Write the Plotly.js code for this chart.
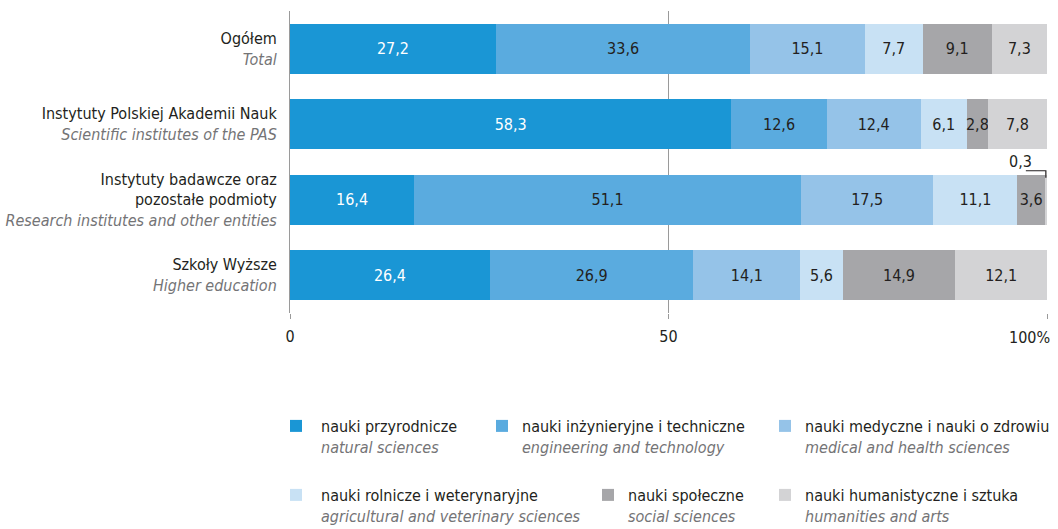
<!DOCTYPE html>
<html><head><meta charset="utf-8">
<script src="https://cdn.plot.ly/plotly-3.0.1.min.js"></script>
<style>html,body{margin:0;padding:0;background:#fff}#chart{width:1058px;height:529px}</style>
</head><body><div id="chart"></div>
<script>
const rowsPL = ["Ogółem", "Instytuty Polskiej Akademii Nauk", "Instytuty badawcze oraz<br>pozostałe podmioty", "Szkoły Wyższe"];
const rowsEN = ["Total", "Scientific institutes of the PAS", "Research institutes and other entities", "Higher education"];
const seriesPL = ["nauki przyrodnicze", "nauki inżynieryjne i techniczne", "nauki medyczne i nauki o zdrowiu", "nauki rolnicze i weterynaryjne", "nauki społeczne", "nauki humanistyczne i sztuka"];
const seriesEN = ["natural sciences", "engineering and technology", "medical and health sciences", "agricultural and veterinary sciences", "social sciences", "humanities and arts"];
const natural      = [27.2, 58.3, 16.4, 26.4];
const engineering  = [33.6, 12.6, 51.1, 26.9];
const medical      = [15.1, 12.4, 17.5, 14.1];
const agricultural = [7.7, 6.1, 11.1, 5.6];
const social       = [9.1, 2.8, 3.6, 14.9];
const humanities   = [7.3, 7.8, 0.3, 12.1];
const xTickVals = [0, 50, 100];
const xTickText = ["0", "50", "100%"];

const values = [natural, engineering, medical, agricultural, social, humanities];
const colors = ["#1a96d5", "#5aabdf", "#95c3e8", "#c8e1f4", "#a6a6a9", "#d3d3d5"];
const textColors = ["#ffffff", "#231f20", "#231f20", "#231f20", "#231f20", "#231f20"];
const FONT = "'Liberation Sans Narrow', 'DejaVu Sans Condensed', Roboto, sans-serif";
const FS = 16;
const fmt = v => v.toFixed(1).replace('.', ',');

const cats = rowsPL.map((p, i) => p + "<br><i><span style='color:#747476'>" + rowsEN[i] + "</span></i>");

const legendPos = [
  {x: 271, y: 409, w: 40}, {x: 482, y: 409, w: 30}, {x: 765, y: 409, w: 30},
  {x: 271, y: 478, w: 40}, {x: 588, y: 478, w: 30}, {x: 765, y: 478, w: 30}
];
const plotL = 290, plotR = 1047, plotT = 11, plotB = 313;
const toPX = px => (px - plotL) / (plotR - plotL);
const toPY = py => (plotB - py) / (plotB - plotT);

const traces = values.map((vals, s) => ({
  type: 'bar', orientation: 'h',
  y: cats, x: vals,
  name: seriesPL[s] + "<br><i><span style='color:#747476'>" + seriesEN[s] + "</span></i>",
  marker: {color: colors[s], line: {width: 0}},
  text: vals.map(v => v >= 1 ? fmt(v) : ''),
  textposition: 'inside', insidetextanchor: 'middle', constraintext: 'none',
  textangle: 0,
  textfont: {family: FONT, size: FS, color: textColors[s]},
  hoverinfo: 'x+name',
  legend: s === 0 ? 'legend' : 'legend' + (s + 1),
  width: 0.66
}));

// the last tick label sits flush with the right edge, so it is drawn as an annotation at that tick
const lastIdx = xTickVals.length - 1;
const axisTickText = xTickText.map((t, i) => i === lastIdx ? '' : t);

const layout = {
  width: 1058, height: 529,
  margin: {l: plotL, r: 1058 - plotR, t: plotT, b: 529 - plotB, pad: 0, autoexpand: false},
  barmode: 'stack', bargap: 0.34,
  paper_bgcolor: '#fff', plot_bgcolor: '#fff',
  font: {family: FONT, size: FS, color: '#231f20'},
  separators: ', ',
  showlegend: true,
  xaxis: {
    range: [0, 100], tickvals: xTickVals, ticktext: axisTickText,
    showgrid: true, gridcolor: '#9a9a9a', gridwidth: 1,
    zeroline: false, showline: false,
    ticks: 'outside', ticklen: 5, tickcolor: '#9a9a9a',
    tickfont: {family: FONT, size: FS, color: '#231f20'},
    ticklabelstandoff: 4, fixedrange: true
  },
  yaxis: {
    autorange: 'reversed', type: 'category',
    showline: true, linecolor: '#9a9a9a', linewidth: 1,
    showgrid: false, ticks: '', ticklabelstandoff: 9,
    tickfont: {family: FONT, size: FS, color: '#231f20'},
    fixedrange: true
  },
  shapes: [],
  annotations: [{
    x: xTickVals[lastIdx], xref: 'x', y: toPY(337), yref: 'paper',
    text: xTickText[lastIdx], showarrow: false,
    xanchor: 'right', yanchor: 'middle', xshift: 5,
    font: {family: FONT, size: FS, color: '#231f20'}
  }]
};

legendPos.forEach((p, i) => {
  const key = i === 0 ? 'legend' : 'legend' + (i + 1);
  layout[key] = {
    x: toPX(p.x), y: toPY(p.y), xanchor: 'left', yanchor: 'top',
    orientation: 'v', valign: 'top', itemwidth: p.w,
    bgcolor: 'rgba(0,0,0,0)', borderwidth: 0,
    font: {family: FONT, size: FS, color: '#231f20'},
    itemclick: false, itemdoubleclick: false
  };
});

// callout for tiny humanities segment in row 3
const r = 2;
let cum = 0; for (let s = 0; s < values.length; s++) cum += values[s][r];
const segMid = cum - humanities[r] / 2;
layout.annotations.push({
  x: segMid, y: cats[r], xref: 'x', yref: 'y',
  text: fmt(humanities[r]), showarrow: false,
  xanchor: 'right', yanchor: 'bottom', xshift: -12, yshift: 27,
  font: {family: FONT, size: FS, color: '#231f20'}
});
layout.shapes.push({
  type: 'path', xref: 'x', yref: 'y',
  xsizemode: 'pixel', ysizemode: 'pixel',
  xanchor: segMid, yanchor: r,
  path: 'M-20,29 L0,29 L0,22',
  line: {color: '#231f20', width: 1.2}
});

Plotly.newPlot('chart', traces, layout, {displayModeBar: false, staticPlot: true});
</script></body></html>
